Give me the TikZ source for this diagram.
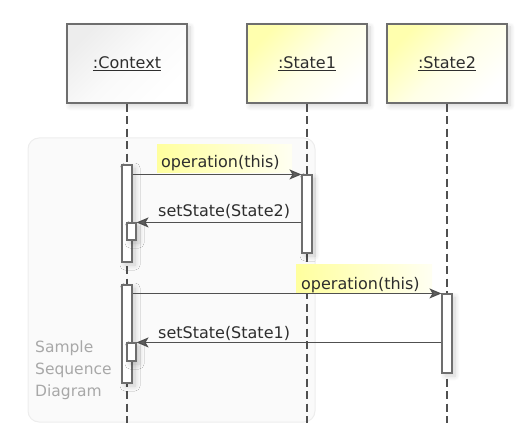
\documentclass[tikz,border=0pt]{standalone}
\usepackage{fontspec}
\setmainfont{DejaVu Sans}
\usetikzlibrary{arrows.meta,shadows.blur}

\definecolor{ink}{HTML}{2E2E2E}
\definecolor{edge}{HTML}{6E6E6E}
\definecolor{wire}{HTML}{505050}
\definecolor{tipgray}{HTML}{606060}
\definecolor{lemon}{HTML}{FFFF9E}
\definecolor{headyellow}{HTML}{FFFFAE}
\definecolor{paleyellow}{HTML}{FFFFF2}
\definecolor{frameedge}{HTML}{EDEDED}
\definecolor{framefill}{HTML}{FAFAFA}
\definecolor{caption}{HTML}{A8A8A8}

\tikzset{
  softshadow/.style={blur shadow={shadow xshift=3pt, shadow yshift=-3pt,
      shadow blur radius=5pt, shadow blur steps=12, shadow opacity=18}},
  head/.style={draw=edge, line width=1.1pt, minimum width=120pt,
      minimum height=79pt, inner sep=0pt, text=ink, softshadow},
  classhead/.style={head, top color=black!7, bottom color=white,
      middle color=black!2, shading angle=45},
  statehead/.style={head, top color=headyellow, bottom color=white,
      middle color=headyellow!30!white, shading angle=45},
  lifeline/.style={draw=wire, line width=1.4pt, dash pattern=on 8pt off 4.5pt},
  activebar/.style={draw=edge, fill=white, line width=1.1pt, minimum width=10pt,
      inner sep=0pt, softshadow},
  nestedbar/.style={activebar, minimum width=9pt},
  msg/.style={draw=wire, line width=1.2pt,
      -{Stealth[length=12pt, width=10pt, inset=3pt, fill=tipgray]}},
  msglabel/.style={anchor=base west, inner sep=0pt, text=ink},
  highlight/.style={left color=lemon, right color=paleyellow, draw=none},
}

\begin{document}
\begin{tikzpicture}[x=1pt, y=-1pt, font=\fontsize{16}{18}\selectfont]
  \useasboundingbox (0,0) rectangle (532,443);

  % background panel of the sample
  \draw[draw=frameedge, fill=framefill, line width=1pt, rounded corners=11pt]
    (28,138) rectangle (315,422);
  \node[anchor=north west, align=left, text=caption, inner sep=0pt,
        font=\fontsize{15.5}{22}\selectfont] (caption) at (35,341)
    {Sample\\Sequence\\Diagram};

  % lifeline heads
  \node[classhead] (ctx) at (127,63.5) {\underline{:Context}};
  \node[statehead] (st1) at (307,63.5) {\underline{:State1}};
  \node[statehead] (st2) at (447,63.5) {\underline{:State2}};

  % lifeline ends
  \coordinate (ctxend) at (127,423);
  \coordinate (st1end) at (307,423);
  \coordinate (st2end) at (447,423);

  \draw[lifeline] (ctx.south) -- (ctxend);
  \draw[lifeline] (st1.south) -- (st1end);
  \draw[lifeline] (st2.south) -- (st2end);

  % activations
  \node[activebar, minimum height=97pt] (ca1) at (127,213.5) {};
  \node[activebar, minimum height=78pt] (sa1) at (307,214) {};
  \node[nestedbar, minimum height=17pt] (cn1) at (131.5,231.5) {};

  \node[activebar, minimum height=98pt] (ca2) at (127,334) {};
  \node[activebar, minimum height=79pt] (sa2) at (447,333.5) {};
  \node[nestedbar, minimum height=18pt] (cn2) at (131.5,352) {};

  % first call: Context -> State1
  \shade[highlight] (157,145) rectangle (292,173);
  \draw[msg] (ca1.east |- sa1.north) -- (sa1.north west);
  \node[msglabel] (op1) at (161,168) {operation(this)};

  \draw[msg] (sa1.west |- cn1.north) -- (cn1.north east);
  \node[msglabel] (set2) at (158,217) {setState(State2)};

  % second call: Context -> State2
  \shade[highlight] (296,265) rectangle (432,293);
  \draw[msg] (ca2.east |- sa2.north) -- (sa2.north west);
  \node[msglabel] (op2) at (301,289) {operation(this)};

  \draw[msg] (sa2.west |- cn2.north) -- (cn2.north east);
  \node[msglabel] (set1) at (158,338) {setState(State1)};
\end{tikzpicture}
\end{document}
